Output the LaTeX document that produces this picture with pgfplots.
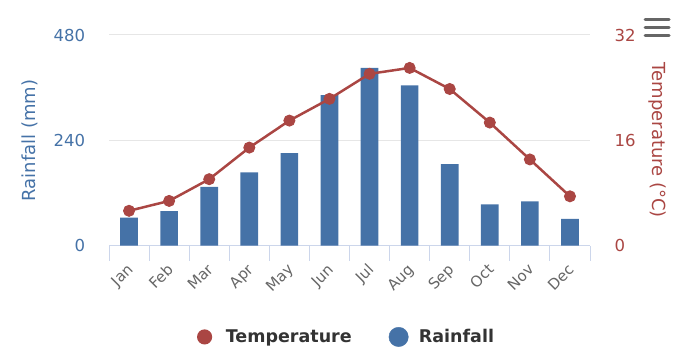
\documentclass[border=0pt]{standalone}
\usepackage{fontspec}
\setmainfont{DejaVu Sans}
\usepackage{pgfplots}
\pgfplotsset{compat=1.18}
\definecolor{rain}{HTML}{4572A7}
\definecolor{temp}{HTML}{AA4643}
\definecolor{gridc}{HTML}{E6E6E6}
\definecolor{axisc}{HTML}{CCD6EB}
\definecolor{lab}{HTML}{666666}
\definecolor{legtext}{HTML}{333333}
\begin{document}
\begin{tikzpicture}[x=1pt,y=1pt]
\useasboundingbox (0,0) rectangle (700,350);
\begin{axis}[
  at={(109pt,104.3pt)}, anchor=south west, scale only axis,
  width=481pt, height=210.7pt,
  xmin=-0.5, xmax=11.5, ymin=0, ymax=480,
  axis x line*=bottom, axis y line*=left,
  x axis line style={axisc, line width=1pt, -},
  y axis line style={draw=none},
  xtick={0,...,11},
  xticklabels={Jan,Feb,Mar,Apr,May,Jun,Jul,Aug,Sep,Oct,Nov,Dec},
  major x tick style={draw=none},
  minor xtick={-0.5,0.5,...,11.5},
  minor x tick style={axisc, line width=1pt},
  minor tick length=15pt,
  tick align=outside,
  x tick label style={xshift=-3pt, yshift=-8pt, rotate=45, anchor=north east, font=\fontsize{15}{17}\selectfont, text=lab},
  ytick={0,240,480},
  major y tick style={draw=none},
  y tick label style={text=rain, font=\fontsize{16.5}{19}\selectfont, xshift=-16pt},
  ymajorgrids, grid style={gridc, line width=1pt},
  ylabel={Rainfall (mm)},
  every axis y label/.style={at={(axis description cs:-0.1642,0.5)}, rotate=90, anchor=center, text=rain, font=\fontsize{18}{21}\selectfont},
  /pgf/number format/assume math mode=true,
  clip=false,
]
\addplot[ybar, bar width=17.7pt, fill=rain, draw=none] coordinates {
  (0,64) (1,79) (2,134) (3,167) (4,211) (5,343)
  (6,405) (7,365) (8,186) (9,94) (10,101) (11,61)
};
\end{axis}
\begin{axis}[
  at={(109pt,104.3pt)}, anchor=south west, scale only axis,
  width=481pt, height=210.7pt,
  xmin=-0.5, xmax=11.5, ymin=0, ymax=32,
  axis x line=none, axis y line*=right,
  y axis line style={draw=none},
  ytick={0,16,32},
  major y tick style={draw=none},
  y tick label style={text=temp, font=\fontsize{16.5}{19}\selectfont, xshift=21pt},
  ylabel={Temperature (°C)},
  every axis y label/.style={at={(axis description cs:1.1393,0.5)}, rotate=-90, anchor=center, text=temp, font=\fontsize{18}{21}\selectfont},
  /pgf/number format/assume math mode=true,
  clip=false,
  legend style={at={(0.4938,-0.433)}, anchor=center, draw=none, fill=none, legend columns=2,
    font=\bfseries\fontsize{17.5}{20}\selectfont, text=legtext,
    /tikz/every even column/.append style={column sep=35pt}},
  legend cell align=left,
]
\addplot[temp, line width=2.5pt, mark=*, mark size=5.5pt, mark options={solid, fill=temp, draw=temp, line width=1pt},
  legend image code/.code={\fill[temp] (0pt,0pt) circle (6.3pt); \path (18pt,0pt);}] coordinates {
  (0,5.3) (1,6.8) (2,10.1) (3,14.9) (4,19.0) (5,22.3)
  (6,26.1) (7,27.0) (8,23.8) (9,18.7) (10,13.1) (11,7.5)
};
\addlegendentry{Temperature}
\addlegendimage{legend image code/.code={\fill[rain] (0pt,0pt) circle (9.7pt); \path (18pt,0pt);}}
\addlegendentry{Rainfall}
\end{axis}
\draw[lab, line width=3pt, line cap=round] (645,330) -- (669,330);
\draw[lab, line width=3pt, line cap=round] (645,322.7) -- (669,322.7);
\draw[lab, line width=3pt, line cap=round] (645,314.3) -- (669,314.3);
\end{tikzpicture}
\end{document}
